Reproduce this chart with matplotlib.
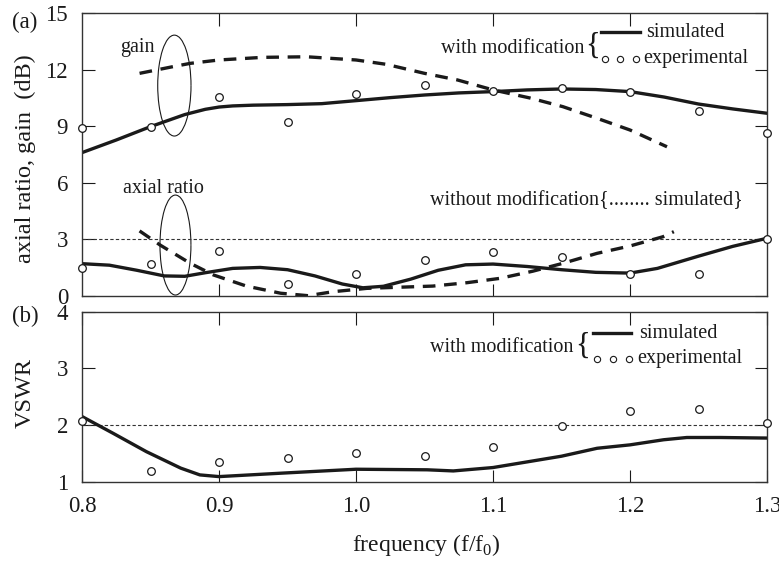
import numpy as np
import matplotlib
matplotlib.use("Agg")
import matplotlib.pyplot as plt
from matplotlib.patches import Arc

plt.rcParams['font.family'] = ['Liberation Serif', 'DejaVu Serif']
plt.rcParams['mathtext.fontset'] = 'custom'
plt.rcParams['mathtext.rm'] = 'Liberation Serif'

# experimental frequencies (f/f0)
f_exp = [0.80, 0.85, 0.90, 0.95, 1.00, 1.05, 1.10, 1.15, 1.20, 1.25, 1.30]

# gain, with modification
gain_exp = [8.92, 8.97, 10.55, 9.24, 10.73, 11.19, 10.89, 11.01, 10.80, 9.83, 8.66]
f_gain_sim = [0.80, 0.825, 0.85, 0.875, 0.89, 0.90, 0.91, 0.925, 0.95, 0.975, 1.00,
              1.025, 1.05, 1.075, 1.10, 1.125, 1.15, 1.175, 1.20, 1.225, 1.25,
              1.275, 1.30]
gain_sim = [7.60, 8.27, 8.98, 9.62, 9.90, 10.02, 10.08, 10.12, 10.15, 10.20, 10.36,
            10.52, 10.66, 10.77, 10.84, 10.93, 10.98, 10.95, 10.84, 10.55, 10.18,
            9.92, 9.69]
# gain, dashed curve
f_gain_dash = [0.842, 0.866, 0.879, 0.90, 0.932, 0.964, 1.00, 1.022, 1.05, 1.074,
               1.10, 1.127, 1.151, 1.176, 1.20, 1.227]
gain_dash = [11.81, 12.16, 12.34, 12.52, 12.66, 12.69, 12.52, 12.29, 11.81, 11.46,
             10.93, 10.50, 10.04, 9.42, 8.80, 7.91]

# axial ratio, with modification
ar_exp = [1.49, 1.68, 2.39, 0.64, 1.15, 1.90, 2.34, 2.07, 1.15, 1.15, 2.99]
f_ar_sim = [0.80, 0.82, 0.84, 0.86, 0.875, 0.89, 0.91, 0.93, 0.95, 0.97, 0.99,
            1.005, 1.02, 1.04, 1.06, 1.08, 1.10, 1.125, 1.15, 1.175, 1.20, 1.22,
            1.25, 1.275, 1.30]
ar_sim = [1.70, 1.62, 1.35, 1.05, 1.03, 1.22, 1.45, 1.50, 1.38, 1.05, 0.62,
          0.42, 0.50, 0.88, 1.35, 1.64, 1.68, 1.55, 1.38, 1.24, 1.20, 1.45,
          2.10, 2.62, 3.05]
# axial ratio, dashed curve
f_ar_dash = [0.842, 0.857, 0.879, 0.896, 0.92, 0.945, 0.965, 0.983, 1.008, 1.032,
             1.056, 1.081, 1.105, 1.129, 1.151, 1.176, 1.20, 1.224, 1.232]
ar_dash = [3.44, 2.69, 1.72, 1.10, 0.51, 0.13, 0.00, 0.21, 0.39, 0.45,
           0.51, 0.69, 0.92, 1.30, 1.72, 2.25, 2.64, 3.13, 3.40]

# VSWR
vswr_exp = [2.07, 1.19, 1.34, 1.42, 1.51, 1.45, 1.61, 1.98, 2.25, 2.28, 2.03]
f_vswr_sim = [0.80, 0.823, 0.847, 0.872, 0.886, 0.90, 0.945, 1.00, 1.052, 1.071,
              1.10, 1.125, 1.15, 1.176, 1.20, 1.2245, 1.2415, 1.266, 1.30]
vswr_sim = [2.15, 1.85, 1.53, 1.24, 1.12, 1.09, 1.15, 1.22, 1.21, 1.19,
            1.25, 1.35, 1.45, 1.59, 1.65, 1.74, 1.78, 1.78, 1.77]

ink = '#1a1a1a'
fig = plt.figure(figsize=(7.79, 5.63), dpi=100)
ax1 = fig.add_axes([0.1053, 0.4748, 0.8793, 0.5016])
ax2 = fig.add_axes([0.1053, 0.1444, 0.8793, 0.3020])

for ax in (ax1, ax2):
    ax.tick_params(direction='in', top=True, right=True, length=9, width=0.8,
                   labelsize=16.5, pad=10, colors=ink)
    for s in ax.spines.values():
        s.set_linewidth(1.0)
        s.set_color('#333333')
    ax.set_xlim(0.8, 1.3)

dash_style = dict(color=ink, lw=2.4, ls=(0, (3.8, 2.6)), solid_joinstyle='round')
solid_style = dict(color=ink, lw=2.4, solid_joinstyle='round')
mk_style = dict(ls='none', marker='o', ms=5.5, mfc='white', mec=ink, mew=0.9, zorder=5,
                clip_on=False)

# (a) axial ratio and gain
ax1.axhline(3, color='#333333', lw=0.8, ls=(0, (3, 2)))
ax1.plot(f_gain_dash, gain_dash, **dash_style)
ax1.plot(f_ar_dash, ar_dash, **dash_style)
ax1.plot(f_gain_sim, gain_sim, **solid_style)
ax1.plot(f_ar_sim, ar_sim, **solid_style)
ax1.plot(f_exp, gain_exp, **mk_style)
ax1.plot(f_exp, ar_exp, **mk_style)
ax1.set_ylim(0, 15)
ax1.set_yticks([0, 3, 6, 9, 12, 15])
ax1.set_xticks([0.9, 1.0, 1.1, 1.2])
ax1.tick_params(labelbottom=False)

ax1.add_patch(Arc((0.8674, 11.16), 0.0243, 5.36, theta1=-5, theta2=335,
                  color=ink, lw=0.8))
ax1.add_patch(Arc((0.8682, 2.69), 0.0226, 5.31, theta1=30, theta2=348,
                  color=ink, lw=0.8, clip_on=False))

fs = 14.5
ax1.text(0.0555, 0.864, 'gain', transform=ax1.transAxes, fontsize=fs, color=ink)
ax1.text(0.0594, 0.3626, 'axial ratio', transform=ax1.transAxes, fontsize=fs, color=ink)
ax1.text(0.734, 0.858, 'with modification', transform=ax1.transAxes, fontsize=fs,
         ha='right', color=ink)
ax1.text(0.746, 0.884, '{', transform=ax1.transAxes, fontsize=22, ha='center',
         va='center', color=ink)
ax1.plot([0.758, 0.815], [0.933, 0.933], transform=ax1.transAxes, **solid_style)
ax1.text(0.824, 0.915, 'simulated', transform=ax1.transAxes, fontsize=fs, color=ink)
ax1.plot([0.764, 0.786, 0.809], [0.837] * 3, transform=ax1.transAxes, ls='none',
         marker='o', ms=4.5, mfc='white', mec=ink, mew=0.8)
ax1.text(0.820, 0.823, 'experimental', transform=ax1.transAxes, fontsize=fs, color=ink)
ax1.text(0.508, 0.321, 'without modification{........ simulated}',
         transform=ax1.transAxes, fontsize=fs, color=ink)

# (b) VSWR
ax2.axhline(2, color='#333333', lw=0.8, ls=(0, (3, 2)))
ax2.plot(f_vswr_sim, vswr_sim, **solid_style)
ax2.plot(f_exp, vswr_exp, **mk_style)
ax2.set_ylim(1, 4)
ax2.set_yticks([1, 2, 3, 4])
ax2.set_xticks([0.8, 0.9, 1.0, 1.1, 1.2, 1.3])
ax2.set_xticklabels(['0.8', '0.9', '1.0', '1.1', '1.2', '1.3'])

ax2.text(0.718, 0.765, 'with modification', transform=ax2.transAxes, fontsize=fs,
         ha='right', color=ink)
ax2.text(0.731, 0.798, '{', transform=ax2.transAxes, fontsize=22, ha='center',
         va='center', color=ink)
ax2.plot([0.746, 0.801], [0.876, 0.876], transform=ax2.transAxes, **solid_style)
ax2.text(0.813, 0.847, 'simulated', transform=ax2.transAxes, fontsize=fs, color=ink)
ax2.plot([0.752, 0.775, 0.798], [0.722] * 3, transform=ax2.transAxes, ls='none',
         marker='o', ms=4.5, mfc='white', mec=ink, mew=0.8)
ax2.text(0.810, 0.700, 'experimental', transform=ax2.transAxes, fontsize=fs, color=ink)

fig.text(12 / 779, 1 - 22 / 563, '(a)', fontsize=16.5, va='center', color=ink)
fig.text(12 / 779, 1 - 316 / 563, '(b)', fontsize=16.5, va='center', color=ink)
fig.text(25 / 779, 0.7176, 'axial ratio, gain  (dB)', rotation=90, fontsize=17.5,
         ha='center', va='center', color=ink)
fig.text(25 / 779, 0.3025, 'VSWR', rotation=90, fontsize=17.5, ha='center',
         va='center', color=ink)
fig.text(0.5475, 0.032, 'frequency (f/f$_0$)', fontsize=17, ha='center',
         va='center', color=ink)

fig.savefig('out.png', dpi=100)
